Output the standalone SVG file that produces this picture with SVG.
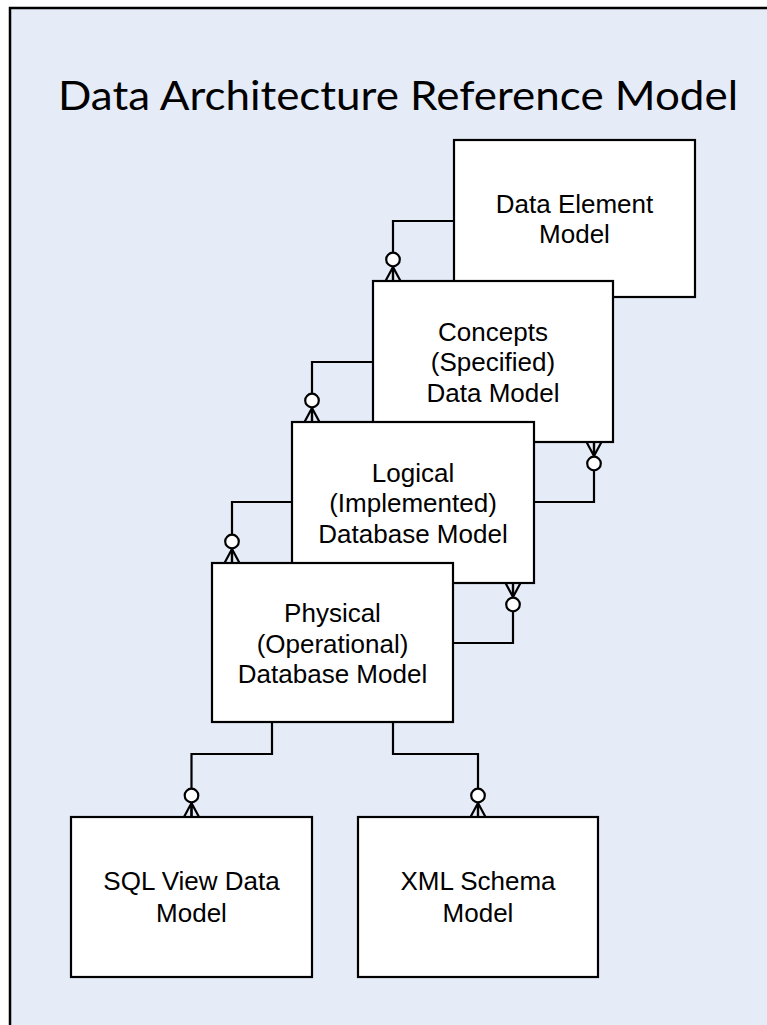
<svg xmlns="http://www.w3.org/2000/svg" width="767" height="1025" viewBox="0 0 767 1025">
  <style>
    .frame { fill: #E6ECF7; stroke: #000; stroke-width: 2.5; }
    .box { fill: #FFFFFF; stroke: #000; stroke-width: 2.2; }
    .lbl { font-family: "Liberation Sans", Arial, sans-serif; font-size: 26px; fill: #000; text-anchor: middle; }
    .title { font-family: Lato, "Open Sans", sans-serif; font-size: 40px; fill: #000; text-anchor: middle; }
    .conn { fill: none; stroke: #000; stroke-width: 2.2; marker-end: url(#zeroMany); }
  </style>
  <defs>
    <marker id="zeroMany" markerUnits="userSpaceOnUse" orient="auto" viewBox="-30 -10 40 20" refX="0" refY="0" markerWidth="40" markerHeight="20" overflow="visible">
      <path d="M-14,0 L0,-7.5 M-14,0 L0,0 M-14,0 L0,7.5" fill="none" stroke="#000" stroke-width="2.2"/>
      <circle cx="-21.5" cy="0" r="6.8" fill="#FFFFFF" stroke="#000" stroke-width="2.2"/>
    </marker>
  </defs>

  <rect class="frame" x="10" y="8" width="800" height="1060"/>
  <text class="title" x="398" y="110" textLength="680" lengthAdjust="spacingAndGlyphs">Data Architecture Reference Model</text>

  <g id="node-data-element">
    <rect class="box" x="454" y="140" width="241" height="157"/>
    <text class="lbl" x="574.5" y="212.5">Data Element</text>
    <text class="lbl" x="574.5" y="243">Model</text>
  </g>
  <g id="node-concepts">
    <rect class="box" x="373" y="281" width="240" height="161"/>
    <text class="lbl" x="493" y="340.5">Concepts</text>
    <text class="lbl" x="493" y="371">(Specified)</text>
    <text class="lbl" x="493" y="401.5">Data Model</text>
  </g>
  <g id="node-logical">
    <rect class="box" x="292" y="422" width="242" height="161"/>
    <text class="lbl" x="413" y="481.5">Logical</text>
    <text class="lbl" x="413" y="512">(Implemented)</text>
    <text class="lbl" x="413" y="542.5">Database Model</text>
  </g>
  <g id="node-physical">
    <rect class="box" x="212" y="563" width="241" height="159"/>
    <text class="lbl" x="332.5" y="622">Physical</text>
    <text class="lbl" x="332.5" y="652.5">(Operational)</text>
    <text class="lbl" x="332.5" y="683">Database Model</text>
  </g>
  <g id="node-sql-view">
    <rect class="box" x="71" y="817" width="241" height="160"/>
    <text class="lbl" x="191.5" y="890">SQL View Data</text>
    <text class="lbl" x="191.5" y="921.5">Model</text>
  </g>
  <g id="node-xml-schema">
    <rect class="box" x="358" y="817" width="240" height="160"/>
    <text class="lbl" x="478" y="890">XML Schema</text>
    <text class="lbl" x="478" y="921.5">Model</text>
  </g>

  <g id="connectors">
    <path class="conn" d="M454,221 H393 V281"/>
    <path class="conn" d="M373,362 H312 V422"/>
    <path class="conn" d="M292,502 H232 V563"/>
    <path class="conn" d="M534,502 H594 V442"/>
    <path class="conn" d="M453,643 H513 V583"/>
    <path class="conn" d="M272,722 V754 H191.5 V817"/>
    <path class="conn" d="M393,722 V754 H478 V817"/>
  </g>
</svg>
